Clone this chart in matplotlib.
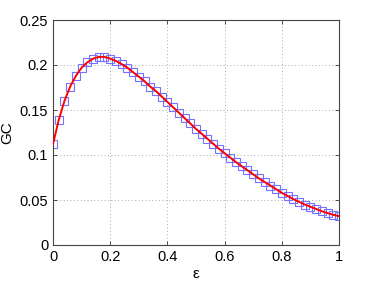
import matplotlib
matplotlib.use("Agg")
import matplotlib.pyplot as plt

eps = [0.00, 0.02, 0.04, 0.06, 0.08, 0.10, 0.12, 0.14, 0.16, 0.18,
       0.20, 0.22, 0.24, 0.26, 0.28, 0.30, 0.32, 0.34, 0.36, 0.38,
       0.40, 0.42, 0.44, 0.46, 0.48, 0.50, 0.52, 0.54, 0.56, 0.58,
       0.60, 0.62, 0.64, 0.66, 0.68, 0.70, 0.72, 0.74, 0.76, 0.78,
       0.80, 0.82, 0.84, 0.86, 0.88, 0.90, 0.92, 0.94, 0.96, 0.98, 1.00]
gc = [0.112, 0.139, 0.160, 0.176, 0.188, 0.197, 0.203, 0.207, 0.209, 0.209,
      0.207, 0.2045, 0.201, 0.197, 0.192, 0.187, 0.182, 0.176, 0.171, 0.165,
      0.159, 0.153, 0.147, 0.141, 0.135, 0.129, 0.1235, 0.118, 0.1125, 0.107,
      0.102, 0.097, 0.092, 0.0875, 0.083, 0.0785, 0.074, 0.070, 0.066, 0.062,
      0.058, 0.0545, 0.051, 0.048, 0.045, 0.0425, 0.040, 0.0375, 0.0355, 0.0335, 0.032]

xticks = [0, 0.2, 0.4, 0.6, 0.8, 1]
xticklabels = ["0", "0.2", "0.4", "0.6", "0.8", "1"]
yticks = [0, 0.05, 0.1, 0.15, 0.2, 0.25]
yticklabels = ["0", "0.05", "0.1", "0.15", "0.2", "0.25"]

plt.rcParams['font.family'] = ['Liberation Sans', 'DejaVu Sans']
fig = plt.figure(figsize=(3.74, 2.81), dpi=100)
ax = fig.add_axes([53/374, 36/281, 286/374, 225/281])

ax.plot(eps, gc, linestyle='none', marker='s', markersize=6,
        markerfacecolor='none', markeredgecolor=(0.45, 0.45, 1.0),
        markeredgewidth=0.8, zorder=2)
ax.plot(eps, gc, color='red', linewidth=1.4, zorder=3)

ax.set_xlim(0, 1)
ax.set_ylim(0, 0.25)
ax.set_xticks(xticks)
ax.set_xticklabels(xticklabels)
ax.set_yticks(yticks)
ax.set_yticklabels(yticklabels)
ax.tick_params(direction='in', top=True, right=True, labelsize=10.5,
               length=3, width=0.6, colors='#333333', labelcolor='black')
ax.grid(True, linestyle=(0, (1, 2.5)), color='#aaaaaa', linewidth=0.7)
for s in ax.spines.values():
    s.set_color('#444444')
    s.set_linewidth(0.8)
ax.set_xlabel('ε', fontsize=11, labelpad=2)
ax.set_ylabel('GC', fontsize=11, labelpad=4)

fig.savefig('out.png', dpi=100)
